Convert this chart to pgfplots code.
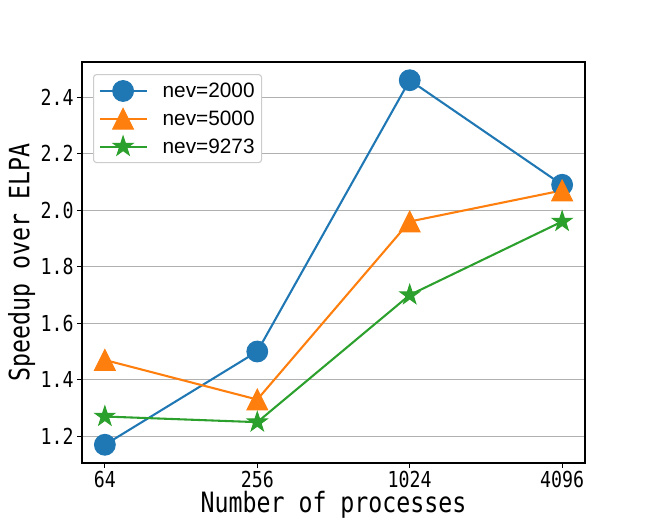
\documentclass[border=0pt]{standalone}
\usepackage{pgfplots}
\pgfplotsset{compat=1.18}
\usepackage{fontspec}
\setmainfont{Liberation Sans}
\newfontfamily\simhei[FakeStretch=0.83]{DejaVu Sans Mono}
\definecolor{c0}{HTML}{1F77B4}
\definecolor{c1}{HTML}{FF7F0E}
\definecolor{c2}{HTML}{2CA02C}
\definecolor{gridc}{HTML}{B0B0B0}
\pgfdeclareplotmark{mtri}{%
  \pgfpathmoveto{\pgfpoint{0pt}{\pgfplotmarksize}}%
  \pgfpathlineto{\pgfpoint{-\pgfplotmarksize}{-\pgfplotmarksize}}%
  \pgfpathlineto{\pgfpoint{\pgfplotmarksize}{-\pgfplotmarksize}}%
  \pgfpathclose\pgfusepathqfillstroke}
\pgfdeclareplotmark{fstar}{%
  \pgfpathmoveto{\pgfpointpolar{90}{\pgfplotmarksize}}%
  \pgfpathlineto{\pgfpointpolar{126}{0.382\pgfplotmarksize}}%
  \pgfpathlineto{\pgfpointpolar{162}{\pgfplotmarksize}}%
  \pgfpathlineto{\pgfpointpolar{198}{0.382\pgfplotmarksize}}%
  \pgfpathlineto{\pgfpointpolar{234}{\pgfplotmarksize}}%
  \pgfpathlineto{\pgfpointpolar{270}{0.382\pgfplotmarksize}}%
  \pgfpathlineto{\pgfpointpolar{306}{\pgfplotmarksize}}%
  \pgfpathlineto{\pgfpointpolar{342}{0.382\pgfplotmarksize}}%
  \pgfpathlineto{\pgfpointpolar{18}{\pgfplotmarksize}}%
  \pgfpathlineto{\pgfpointpolar{54}{0.382\pgfplotmarksize}}%
  \pgfpathclose\pgfusepathqfillstroke}
\begin{document}
\begin{tikzpicture}
\path[use as bounding box] (0,0) rectangle (650bp,520bp);
\begin{axis}[
  at={(82bp,57bp)}, anchor=south west,
  scale only axis, width=503bp, height=401bp,
  xmin=-0.15, xmax=3.15, ymin=1.1055, ymax=2.5245,
  xtick={0,1,2,3}, xticklabels={64,256,1024,4096},
  ytick={1.2,1.4,1.6,1.8,2.0,2.2,2.4},
  yticklabels={1.2,1.4,1.6,1.8,2.0,2.2,2.4},
  ticklabel style={font=\fontsize{22bp}{24bp}\simhei},
  tick align=outside, major tick length=4.9bp,
  every tick/.style={black, line width=1.1bp},
  tick pos=left,
  axis line style={line width=1.1bp},
  ymajorgrids, grid style={gridc, line width=1.1bp},
  xlabel={Number of processes}, ylabel={Speedup over ELPA},
  label style={font=\fontsize{28bp}{30bp}\simhei},
  xlabel style={at={(axis description cs:0.5,-0.105)}, anchor=center},
  ylabel style={at={(axis description cs:-0.12,0.5)}, anchor=center},
  legend style={at={(axis description cs:0.0219,0.970)}, anchor=north west,
    draw=black!20, rounded corners=3bp, fill=white,
    font=\fontsize{20.8bp}{24bp}\selectfont, row sep=7bp, inner xsep=5bp, inner ysep=6bp,
    line width=1.1bp,
    /tikz/every odd column/.append style={column sep=13bp}},
  legend cell align=left,
  legend image code/.code={\draw[mark repeat=2,mark phase=2] plot coordinates {(0bp,0bp) (23.5bp,0bp) (47bp,0bp)};},
  every axis plot/.append style={line width=2.08bp},
]
\addplot[c0, mark=*, mark size=10.4bp, mark options={fill=c0, line width=1bp}] coordinates {(0,1.17) (1,1.50) (2,2.46) (3,2.09)};
\addlegendentry{nev=2000}
\addplot[c1, mark=mtri, mark size=10.4bp, mark options={fill=c1, line width=1bp}] coordinates {(0,1.47) (1,1.33) (2,1.96) (3,2.07)};
\addlegendentry{nev=5000}
\addplot[c2, mark=fstar, mark size=10.4bp, mark options={fill=c2, line width=1bp}] coordinates {(0,1.27) (1,1.25) (2,1.70) (3,1.96)};
\addlegendentry{nev=9273}
\end{axis}
\end{tikzpicture}
\end{document}
